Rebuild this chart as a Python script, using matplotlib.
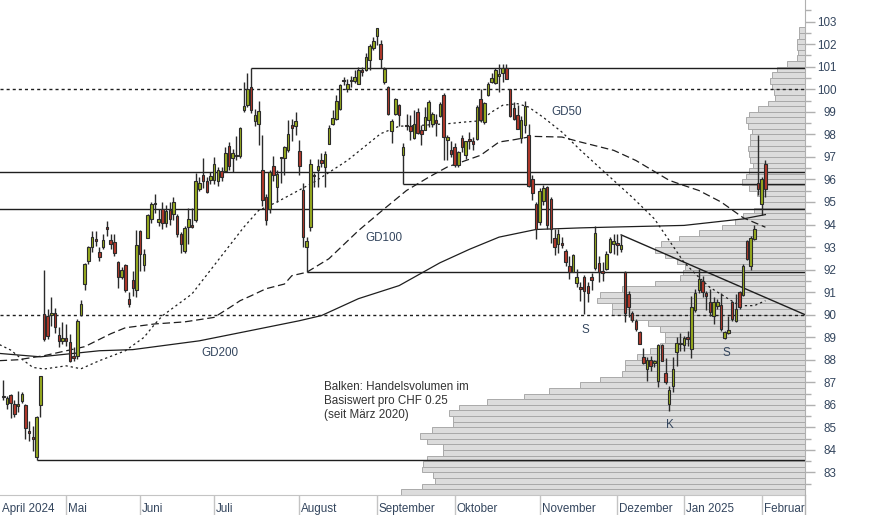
import numpy as np
import matplotlib
matplotlib.use('Agg')
import matplotlib.pyplot as plt
from matplotlib.lines import Line2D

plt.rcParams['font.family'] = ['Liberation Sans', 'DejaVu Sans']
plt.rcParams['font.size'] = 8.4

#%% data (CHF), one candle per trading day, Apr 2024 - Feb 2025

opens = [86.36, 86.04, 86.43, 86.03, 85.93, 86.16, 86.00, 84.80, 84.52, 83.69,
         86.00, 90.03, 89.96, 90.00, 90.07, 89.10, 88.85, 88.98, 88.80, 88.18,
         88.18, 89.99, 91.36, 92.39, 92.98, 93.35, 92.79, 92.98, 93.86, 93.30,
         93.24, 92.35, 91.68, 92.20, 90.70, 91.56, 91.09, 93.72, 92.20, 93.42,
         94.23, 94.90, 94.10, 94.70, 94.06, 94.66, 94.47, 94.36, 93.58, 92.81,
         93.91, 93.92, 94.20, 95.58, 96.18, 95.95, 95.99, 95.99, 95.92, 96.37,
         96.37, 97.47, 96.96, 97.05, 97.06, 99.10, 99.29, 100.10, 98.58, 98.48,
         96.40, 95.24, 94.70, 96.60, 95.66, 96.98, 96.96, 97.32, 98.43, 98.36,
         97.24, 95.51, 92.99, 93.88, 96.17, 96.44, 96.84, 96.55, 97.59, 98.44,
         98.68, 99.14, 100.37, 100.00, 100.37, 100.36, 100.25, 100.87, 100.87, 101.29,
         101.85, 102.36, 102.00, 100.33, 100.10, 98.16, 98.92, 99.29, 97.10, 98.38,
         98.37, 97.85, 98.99, 98.18, 98.20, 98.62, 98.44, 98.62, 98.81, 99.73,
         97.76, 97.29, 97.44, 96.65, 97.85, 97.10, 97.81, 97.69, 97.81, 99.59,
         98.53, 99.73, 100.33, 100.30, 100.60, 100.70, 100.95, 100.03, 99.16, 98.87,
         97.84, 98.40, 97.96, 96.03, 94.92, 94.10, 95.04, 95.66, 95.14, 93.39,
         93.13, 93.18, 92.84, 92.17, 91.91, 91.39, 91.19, 91.66, 91.29, 91.66,
         92.07, 92.30, 91.90, 92.03, 92.77, 93.15, 93.13, 92.92, 91.88, 90.90,
         90.06, 89.70, 89.24, 88.12, 87.58, 87.98, 87.87, 87.04, 88.67, 87.41,
         86.04, 86.84, 88.34, 88.70, 88.67, 89.02, 88.48, 90.20, 91.10, 91.50,
         90.98, 90.57, 89.95, 90.39, 90.45, 88.98, 89.20, 90.54, 89.73, 91.00,
         90.87, 93.25, 92.18, 93.36, 95.85, 94.89, 96.70]

highs = [87.10, 86.40, 86.47, 86.20, 86.60, 86.55, 86.05, 85.30, 85.07, 85.50,
         87.30, 92.00, 90.25, 90.77, 90.30, 89.44, 89.66, 89.59, 89.15, 88.55,
         89.81, 90.65, 92.30, 93.05, 93.69, 93.69, 92.98, 93.56, 94.14, 93.56,
         93.56, 92.39, 92.10, 92.25, 91.00, 91.95, 93.75, 93.75, 92.90, 94.46,
         95.00, 95.36, 94.70, 94.99, 94.85, 94.99, 95.24, 94.47, 93.66, 93.95,
         94.73, 94.73, 96.28, 96.10, 96.96, 96.10, 96.33, 97.00, 96.55, 96.55,
         97.44, 97.66, 97.36, 97.92, 98.33, 100.33, 100.70, 100.95, 99.14, 99.48,
         97.96, 95.36, 96.40, 97.02, 96.40, 97.00, 97.47, 98.62, 98.70, 98.99,
         97.73, 95.84, 93.44, 96.90, 96.30, 96.90, 97.18, 97.25, 98.40, 99.10,
         99.74, 100.25, 100.55, 100.47, 100.60, 100.84, 100.99, 101.00, 101.59, 102.02,
         102.33, 102.74, 102.20, 101.00, 100.15, 98.70, 99.60, 99.35, 97.60, 98.92,
         98.85, 99.07, 99.18, 98.40, 99.21, 99.51, 99.00, 98.92, 99.44, 99.84,
         97.95, 97.70, 97.63, 97.25, 97.96, 97.70, 98.10, 97.88, 99.29, 100.03,
         99.44, 100.33, 100.70, 100.95, 101.14, 101.14, 101.14, 100.03, 99.44, 99.30,
         98.81, 99.48, 98.47, 96.18, 95.00, 95.60, 95.75, 95.70, 95.20, 93.78,
         93.78, 93.44, 92.90, 92.60, 92.70, 92.03, 91.44, 91.78, 91.44, 91.85,
         93.93, 92.60, 92.32, 92.84, 93.44, 93.58, 93.58, 93.54, 91.95, 91.07,
         90.18, 89.81, 89.29, 88.53, 88.12, 88.18, 88.00, 88.70, 88.70, 88.10,
         86.84, 88.12, 89.00, 89.18, 89.07, 89.29, 90.84, 91.14, 92.03, 91.73,
         91.07, 91.14, 90.77, 90.69, 90.98, 89.29, 89.95, 90.62, 90.91, 91.03,
         92.25, 93.33, 93.47, 93.99, 97.99, 96.10, 96.88]

lows = [86.20, 85.80, 85.40, 85.45, 85.70, 86.10, 84.50, 84.40, 83.97, 83.56,
        85.44, 88.85, 88.90, 89.50, 89.20, 88.55, 88.70, 88.63, 87.88, 87.96,
        88.03, 89.95, 91.10, 92.27, 92.80, 93.05, 92.39, 92.90, 93.49, 92.90,
        92.60, 91.20, 91.58, 91.00, 90.36, 90.85, 90.77, 91.95, 91.95, 93.42,
        94.07, 94.50, 93.92, 93.81, 93.90, 94.00, 94.18, 93.44, 92.74, 92.74,
        93.14, 93.86, 94.10, 95.50, 95.60, 95.38, 95.80, 95.80, 95.70, 95.95,
        96.33, 96.40, 96.33, 96.85, 96.96, 99.00, 99.20, 98.95, 98.39, 97.54,
        94.84, 94.00, 94.50, 95.95, 95.00, 95.84, 96.18, 97.20, 97.70, 97.96,
        96.18, 93.00, 91.91, 93.73, 95.66, 95.66, 96.55, 95.66, 97.56, 98.40,
        98.65, 99.10, 100.18, 99.90, 100.10, 100.30, 100.25, 100.60, 100.80, 100.87,
        101.73, 101.96, 100.93, 100.25, 98.85, 97.60, 98.85, 98.36, 95.78, 98.18,
        97.74, 97.80, 98.03, 97.51, 98.18, 98.33, 98.33, 97.92, 98.77, 96.84,
        96.84, 97.00, 96.55, 96.55, 97.21, 96.90, 97.36, 97.29, 97.74, 98.55,
        98.48, 99.70, 100.30, 100.25, 99.88, 100.33, 100.44, 98.77, 98.62, 98.22,
        97.63, 98.04, 95.66, 95.07, 93.36, 94.00, 94.88, 93.80, 93.18, 92.66,
        92.74, 92.96, 92.17, 91.60, 91.88, 91.22, 90.62, 90.03, 90.55, 91.10,
        92.00, 91.44, 91.51, 91.96, 92.73, 92.70, 92.66, 92.76, 89.66, 89.88,
        89.66, 89.29, 88.69, 87.80, 87.04, 87.51, 87.70, 86.77, 87.93, 86.92,
        85.73, 86.55, 87.74, 88.40, 88.40, 88.62, 88.10, 90.13, 90.98, 90.77,
        90.20, 89.95, 89.59, 90.24, 89.29, 88.90, 89.14, 89.73, 89.66, 90.24,
        90.84, 92.44, 91.96, 93.33, 95.29, 94.44, 95.23]

closes = [86.33, 86.30, 86.07, 85.59, 86.05, 86.46, 84.96, 84.76, 84.50, 85.44,
          87.26, 88.92, 89.07, 90.02, 89.44, 88.85, 88.98, 88.85, 87.93, 88.07,
          89.73, 90.47, 92.27, 93.01, 93.45, 93.25, 92.57, 93.30, 93.82, 93.13,
          92.73, 91.68, 91.99, 91.09, 90.47, 91.20, 93.10, 92.69, 92.69, 94.43,
          94.92, 94.92, 94.25, 94.06, 94.62, 94.25, 94.99, 93.58, 93.14, 93.84,
          94.25, 93.90, 95.95, 95.84, 95.92, 95.43, 96.13, 96.70, 96.44, 96.10,
          97.18, 96.58, 97.18, 97.02, 98.28, 99.24, 100.03, 99.10, 98.87, 99.04,
          95.07, 94.18, 96.33, 96.18, 96.22, 96.95, 97.44, 98.03, 98.30, 98.58,
          96.59, 93.44, 93.26, 96.70, 96.13, 96.60, 96.73, 97.14, 98.28, 98.74,
          99.47, 100.18, 100.35, 100.25, 100.35, 100.55, 100.87, 100.77, 101.44, 101.91,
          102.15, 102.70, 101.36, 100.92, 98.92, 98.60, 99.58, 98.84, 97.44, 98.36,
          98.15, 98.47, 98.06, 98.03, 98.77, 99.44, 98.92, 98.50, 99.33, 97.88,
          97.90, 97.14, 96.63, 97.21, 97.44, 97.69, 97.72, 97.59, 99.22, 98.62,
          99.41, 100.25, 100.52, 100.84, 100.65, 100.95, 100.47, 98.81, 98.66, 98.25,
          98.62, 99.25, 95.73, 95.41, 93.78, 95.47, 95.60, 93.99, 93.80, 92.99,
          93.58, 93.10, 92.32, 91.88, 92.65, 91.66, 91.15, 91.07, 90.96, 91.56,
          93.62, 91.88, 91.86, 92.70, 93.35, 93.25, 93.10, 93.10, 90.06, 90.36,
          89.77, 89.36, 88.72, 87.87, 87.98, 87.73, 87.95, 88.67, 87.96, 87.00,
          86.66, 87.59, 88.75, 88.74, 88.96, 88.90, 90.33, 90.94, 91.60, 91.00,
          90.84, 90.13, 90.57, 90.57, 89.36, 89.21, 89.30, 89.80, 90.27, 90.33,
          92.18, 92.47, 93.40, 93.81, 95.56, 96.03, 95.56]

# moving averages, read at selected candle positions
gd50_idx = [-1, 2, 5, 8, 11, 17, 21, 26, 33, 38, 41, 43, 51, 58, 65, 69, 74, 79, 84, 93,
            102, 107, 113, 120, 125, 129, 132, 135, 139, 142, 146, 151, 156, 162, 170,
            176, 180, 184, 188, 191, 196, 199, 203, 206]
gd50 = [88.67, 88.43, 88.03, 87.66, 87.59, 87.73, 87.60, 87.96, 88.40, 88.99, 89.59, 89.95,
        90.92, 92.40, 93.88, 94.62, 95.00, 95.44, 95.88, 96.84, 98.03, 98.36, 98.40, 98.47,
        98.55, 98.60, 98.99, 99.29, 99.36, 99.21, 98.75, 98.10, 97.30, 96.40, 95.21, 94.25,
        93.29, 92.32, 91.66, 91.21, 90.70, 90.40, 90.40, 90.62]

gd100_idx = [-1, 4, 11, 22, 29, 33, 41, 49, 57, 62, 64, 67, 71, 76, 78, 82, 88, 96, 103, 109,
             115, 120, 129, 134, 138, 143, 151, 156, 165, 171, 180, 184, 188, 194, 200, 206]
gd100 = [87.96, 88.00, 88.18, 88.58, 89.15, 89.42, 89.59, 89.68, 89.88, 90.40, 90.62, 90.84,
         91.15, 91.36, 91.73, 91.88, 92.48, 93.73, 94.70, 95.51, 96.10, 96.55, 97.07, 97.66,
         97.76, 97.91, 97.88, 97.66, 97.29, 96.84, 95.96, 95.73, 95.51, 95.00, 94.30, 93.88]

gd200_idx = [-1, 10, 26, 35, 53, 67, 80, 86, 96, 107, 118, 126, 134, 144, 156, 163, 184, 200, 206]
gd200 = [88.28, 88.13, 88.40, 88.45, 88.84, 89.30, 89.73, 89.96, 90.71, 91.29, 92.30, 92.90,
         93.44, 93.78, 93.85, 93.88, 93.96, 94.25, 94.44]

# traded volume per CHF 0.25, bins from 82.00 upward (relative length)
vol_bins = np.arange(82.0, 102.75, 0.25)
vol = [404, 383, 370, 372, 383, 382, 378, 362, 362, 378, 385, 373, 352, 352, 356, 346,
       318, 281, 256, 225, 205, 183, 180, 180, 168, 155, 145, 140, 140, 145, 157, 175,
       193, 193, 208, 205, 183, 150, 125, 122, 120, 128, 140, 150, 144, 126, 106, 83,
       70, 62, 51, 43, 45, 48, 56, 63, 59, 56, 52, 55, 56, 57, 55, 55,
       53, 57, 59, 56, 47, 37, 30, 31, 33, 35, 33, 28, 18, 8, 7, 8,
       8, 6, 6]

# support / resistance lines: price and candle where they begin (None = full width)
levels = [100.95, 96.33, 95.78, 94.70, 91.91, 83.56]
level_start = [67, None, 108, None, 82, 9]
dashed_levels = [100.0, 90.0]
trend_start = (167, 93.54)
trend_end_price = 90.0

month_names = ['Mai', 'Juni', 'Juli', 'August', 'September', 'Oktober',
               'November', 'Dezember', 'Jan 2025', 'Februar']
month_start = [17, 37, 57, 80, 101, 122, 145, 166, 184, 205]

GREEN = '#97ac1e'
RED = '#b3382a'
EDGE = '#2b2b2b'
LINE = '#1e1e1e'
TXT = '#34465e'
GRID = '#c4c4c4'

#%% figure

W, H = 874, 515
fig = plt.figure(figsize=(W / 100, H / 100), dpi=100)
ax = fig.add_axes([0, 20 / H, 805 / W, 495 / H])
x_left, x_right = -0.89, 216.7
ax.set_xlim(x_left, x_right)
ax.set_ylim(82.0, 103.96)

# volume profile, drawn from the right edge leftwards
axv = ax.twiny()
axv.set_xlim(805, 0)
axv.barh(vol_bins, vol, height=0.25, left=0, align='edge',
         color='#dcdcdc', edgecolor='#a9a9a9', linewidth=0.7)
axv.axis('off')
ax.set_zorder(axv.get_zorder() + 1)
ax.patch.set_visible(False)

# lines
for p, s in zip(levels, level_start):
    if s is None:
        ax.axhline(p, color=LINE, lw=1.0, zorder=2)
    else:
        ax.hlines(p, s, x_right, color=LINE, lw=1.0, zorder=2)
for p in dashed_levels:
    ax.axhline(p, color=LINE, lw=1.0, dashes=(2.2, 2.2), zorder=2)
ax.plot([trend_start[0], x_right], [trend_start[1], trend_end_price],
        color=LINE, lw=1.0, zorder=2)

ax.plot(gd200_idx, gd200, color=LINE, lw=0.9, zorder=2)
ax.plot(gd100_idx, gd100, color=LINE, lw=0.9, dashes=(6, 3), zorder=2)
ax.plot(gd50_idx, gd50, color=LINE, lw=0.9, dashes=(1.8, 2.4), zorder=2)

# candles
o = np.array(opens); h = np.array(highs); l = np.array(lows); c = np.array(closes)
idx = np.arange(len(o))
cols = np.where(c >= o, GREEN, RED)
ax.vlines(idx, l, h, color=EDGE, lw=1.0, zorder=4)
ax.bar(idx, np.maximum(np.abs(c - o), 0.06), bottom=np.minimum(o, c), width=0.68,
       color=cols, edgecolor=EDGE, linewidth=0.8, zorder=5)

# labels in the chart
ax.text(148.1, 98.88, 'GD50', color=TXT, ha='left', va='baseline')
ax.text(97.8, 93.26, 'GD100', color=TXT, ha='left', va='baseline')
ax.text(53.6, 88.16, 'GD200', color=TXT, ha='left', va='baseline')
ax.text(157.3, 89.2, 'S', color=TXT, ha='center', va='baseline')
ax.text(195.5, 88.18, 'S', color=TXT, ha='center', va='baseline')
ax.text(180.2, 84.99, 'K', color=TXT, ha='center', va='baseline')
ax.text(86.7, 87.07, 'Balken: Handelsvolumen im\nBasiswert pro CHF 0.25\n(seit März 2020)',
        color='#333333', ha='left', va='top', linespacing=1.25)

# y axis on the right
ax.yaxis.tick_right()
ax.set_yticks(np.arange(83, 104))
ax.set_yticks(np.arange(82.5, 104, 1.0), minor=True)
ax.tick_params(axis='y', which='major', length=7, width=1, color='#b0b0b0',
               labelcolor=TXT, pad=15.8)
ax.tick_params(axis='y', which='minor', length=4, width=1, color='#b0b0b0')
for t in ax.get_yticklabels():
    t.set_horizontalalignment('right')

# x axis: month separators and names
ax.set_xticks(month_start)
ax.set_xticklabels([])
ax.tick_params(axis='x', length=14.4, width=1, color=GRID, direction='out')
for m, name in zip(month_start, month_names):
    ax.annotate(name, xy=(m, 0), xycoords=ax.get_xaxis_transform(),
                xytext=(2, -17), textcoords='offset pixels', color=TXT,
                ha='left', va='baseline')
ax.annotate('April 2024', xy=(0, 0), xycoords='axes fraction', xytext=(2, -17),
            textcoords='offset pixels', color=TXT, ha='left', va='baseline')

for side in ['top', 'left']:
    ax.spines[side].set_visible(False)
ax.spines['bottom'].set_color(GRID)
ax.spines['right'].set_color('#b0b0b0')
fig.add_artist(Line2D([805 / W, 805 / W], [0, 20 / H], color='#b0b0b0', lw=1))

fig.savefig('out.png', dpi=100)
